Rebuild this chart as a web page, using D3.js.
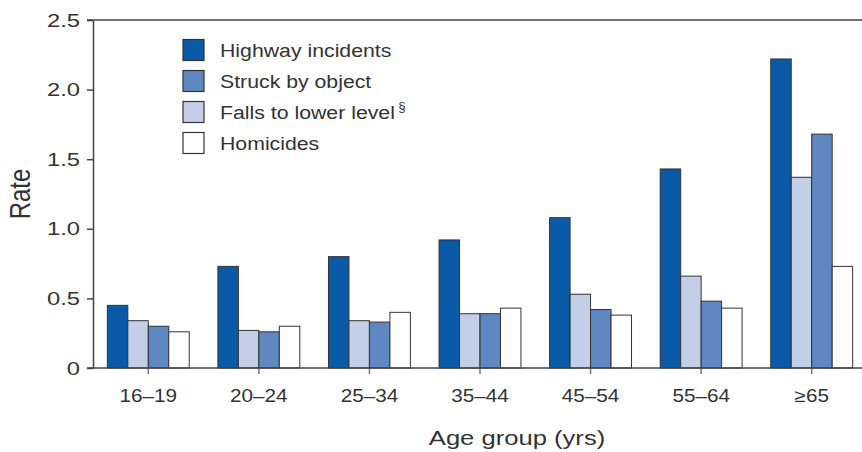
<!DOCTYPE html>
<html>
<head>
<meta charset="utf-8">
<script src="https://cdn.jsdelivr.net/npm/d3@7"></script>
<style>
  body { margin: 0; background: #fff; }
  text { font-family: "Liberation Sans", Arial, sans-serif; fill: #333; }
</style>
</head>
<body>
<svg id="chart" width="862" height="452"></svg>
<script>
// age groups on the x axis
let ageGroups = ["16–19", "20–24", "25–34", "35–44", "45–54", "55–64", "≥65"]

// rates per series
let highway   = [0.45, 0.73, 0.80, 0.92, 1.08, 1.43, 2.22]
let falls     = [0.34, 0.27, 0.34, 0.39, 0.53, 0.66, 1.37]
let struck    = [0.30, 0.26, 0.33, 0.39, 0.42, 0.48, 1.68]
let homicides = [0.26, 0.30, 0.40, 0.43, 0.38, 0.43, 0.73]

let yTicks = [0, 0.5, 1.0, 1.5, 2.0, 2.5]

// bar order inside a group differs from the legend order
let series = [
  {key: "highway", label: "Highway incidents", values: highway, colour: "#0a5aa8"},
  {key: "falls", label: "Falls to lower level", values: falls, colour: "#c3cfe7"},
  {key: "struck", label: "Struck by object", values: struck, colour: "#5f88c3"},
  {key: "homicides", label: "Homicides", values: homicides, colour: "#ffffff"}
]
let legendOrder = ["highway", "struck", "falls", "homicides"]

let svg = d3.select("#chart")
let plotLeft = 93, plotRight = 867, plotTop = 20, plotBottom = 368
// the source figure is a little wider than tall, so its type looks stretched
let stretch = 1.2

let x0 = d3.scaleBand().domain(ageGroups).range([plotLeft, plotRight]).padding(0)
let x1 = d3.scaleBand().domain(series.map(s => s.key))
  .range([0, x0.bandwidth()]).paddingInner(0).paddingOuter(0.7)
let y = d3.scaleLinear().domain([0, 2.5]).range([plotBottom, plotTop])

// top frame line
svg.append("line")
  .attr("x1", plotLeft - 6).attr("x2", 862)
  .attr("y1", plotTop).attr("y2", plotTop)
  .style("stroke", "#444").style("stroke-width", 1.5)

// bars
let groups = svg.selectAll("g.group")
  .data(ageGroups)
  .enter().append("g")
  .attr("class", "group")
  .attr("transform", d => `translate(${x0(d)},0)`)

groups.selectAll("rect")
  .data((d, i) => series.map(s => ({key: s.key, value: s.values[i], colour: s.colour})))
  .enter().append("rect")
  .attr("x", d => x1(d.key))
  .attr("width", x1.bandwidth())
  .attr("y", d => y(d.value))
  .attr("height", d => plotBottom - y(d.value))
  .style("fill", d => d.colour)
  .style("stroke", "#333")
  .style("stroke-width", 1)

// y axis
let yAxis = svg.append("g")
  .attr("transform", `translate(${plotLeft},0)`)
  .call(d3.axisLeft(y).tickValues(yTicks).tickSize(6).tickSizeOuter(0)
    .tickFormat(d => d === 0 ? "0" : d3.format(".1f")(d)))
yAxis.select(".domain").style("stroke", "#444").style("stroke-width", 1.5)
yAxis.selectAll(".tick line").style("stroke", "#444").style("stroke-width", 1.5)
yAxis.selectAll(".tick text")
  .attr("x", -13 / 1.25)
  .attr("transform", "scale(1.25,1)")
  .style("font-size", "19px")
  .style("fill", "#333")

// x axis
let xAxis = svg.append("g")
  .attr("transform", `translate(0,${plotBottom})`)
  .call(d3.axisBottom(x0).tickSize(6).tickSizeOuter(0))
xAxis.select(".domain").remove()
xAxis.selectAll(".tick line").style("stroke", "#777").style("stroke-width", 1.5)
xAxis.selectAll(".tick text")
  .attr("y", 21)
  .attr("transform", "scale(1.15,1)")
  .style("font-size", "18px")
  .style("fill", "#333")
svg.append("line")
  .attr("x1", plotLeft - 6).attr("x2", 862)
  .attr("y1", plotBottom).attr("y2", plotBottom)
  .style("stroke", "#444").style("stroke-width", 1.5)

// axis titles
svg.append("text")
  .attr("transform", `translate(30,${(plotTop + plotBottom) / 2}) scale(${stretch},1) rotate(-90)`)
  .attr("text-anchor", "middle")
  .style("font-size", "24px")
  .text("Rate")

svg.append("text")
  .attr("transform", "translate(517,445) scale(1.28,1)")
  .attr("text-anchor", "middle")
  .style("font-size", "20px")
  .text("Age group (yrs)")

// legend
let legend = svg.selectAll("g.legend")
  .data(legendOrder.map(k => series.find(s => s.key === k)))
  .enter().append("g")
  .attr("class", "legend")
  .attr("transform", (d, i) => `translate(183,${50 + i * 31})`)

legend.append("rect")
  .attr("x", 0).attr("y", -10.5)
  .attr("width", 21).attr("height", 21)
  .style("fill", d => d.colour)
  .style("stroke", "#333")
  .style("stroke-width", 1.2)

let legendText = legend.append("text")
  .attr("transform", "translate(37,7) scale(1.12,1)")
  .style("font-size", "19px")
legendText.append("tspan").text(d => d.label)
legendText.filter(d => d.key === "falls")
  .append("tspan")
  .attr("dx", 3).attr("dy", -8)
  .style("font-size", "12px")
  .text("§")
</script>
</body>
</html>
